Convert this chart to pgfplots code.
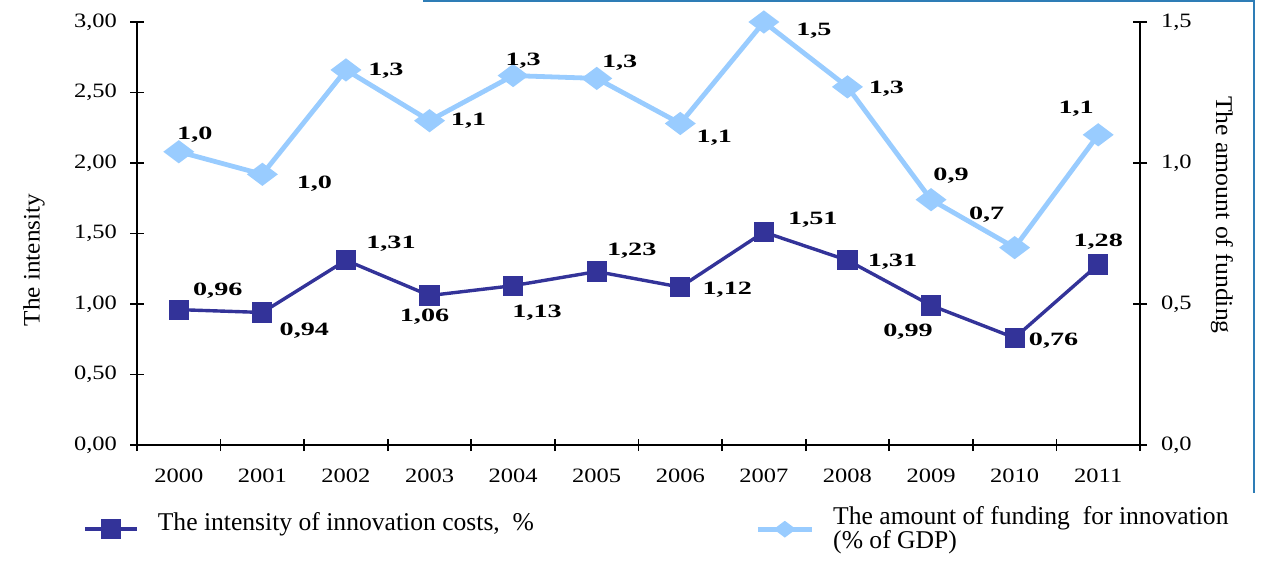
\documentclass[border=0pt]{standalone}
\usepackage{pgfplots}
\pgfplotsset{compat=1.18}
\usepackage{pgfplotstable}
\usepackage{fontspec}
\setmainfont{Liberation Serif}
\newfontfamily\tickfont[FakeStretch=1.2]{Liberation Serif}
\newfontfamily\lblfont[FakeStretch=1.5]{Liberation Serif}
\newfontfamily\titlefont[FakeStretch=1.07]{Liberation Serif}
\definecolor{darkser}{RGB}{51,51,153}
\definecolor{lightser}{RGB}{153,204,255}
\definecolor{framec}{RGB}{46,125,182}

% dx, dy: offset of the value label from its point, in pt
\pgfplotstableread{
x y lbl dx dy
0 0.96 0,96 19.5 9.5
1 0.94 0,94 21 -9
2 1.31 1,31 22.5 8.5
3 1.06 1,06 -2.5 -10.5
4 1.13 1,13 12 -13.5
5 1.23 1,23 17.5 10.5
6 1.12 1,12 23.5 -1.5
7 1.51 1,51 24.5 6
8 1.31 1,31 22.5 -0.5
9 0.99 0,99 -11.5 -13
10 0.76 0,76 19.5 -1.5
11 1.28 1,28 0 11.5
}\darkdata

\pgfplotstableread{
x y lbl dx dy
0 1.04 1,0 8 8.5
1 0.96 1,0 26 -4.5
2 1.33 1,3 20 -0.5
3 1.15 1,1 19.5 0
4 1.31 1,3 5 7.5
5 1.30 1,3 11.5 8
6 1.14 1,1 17 -7
7 1.50 1,5 25 -4.5
8 1.27 1,3 19.5 -1
9 0.87 0,9 10 12
10 0.70 0,7 -14 16.5
11 1.10 1,1 -11 13
}\lightdata

\pgfplotsset{
  common/.style={
    at={(68.5pt,62pt)}, anchor=south west,
    scale only axis, width=501.5pt, height=211.5pt,
    xmin=-0.5, xmax=11.5, clip=false,
    /pgf/number format/assume math mode=true,
    tick label style={font=\tickfont\fontsize{10.2}{12}\selectfont},
    tick align=center,
    every tick/.style={black, line width=0.9pt},
    axis line style={black, line width=0.9pt},
    major tick length=7pt, minor tick length=6pt,
    legend style={draw=none, fill=none, inner sep=0pt, cells={align=left},
      font=\fontsize{12.8}{12.3}\selectfont,
      /tikz/every odd column/.style={column sep=7.5pt}},
  },
  lbls/.style={
    draw=none, no marks, forget plot,
    nodes near coords, point meta=explicit symbolic,
    every node near coord/.append style={anchor=center,
      text=black, font=\lblfont\fontsize{9.4}{11}\selectfont\bfseries},
  },
  darkstyle/.style={color=darkser, line width=1.7pt, mark=square*, mark size=4.2pt, mark options={solid},
    legend image code/.code={\draw[mark repeat=2, mark phase=2, ##1] plot coordinates {(0pt,-3pt) (13pt,-3pt) (26pt,-3pt)};}},
  lightstyle/.style={color=lightser, line width=2.4pt, mark=diamond*, mark size=5.75pt, mark options={solid, rotate=90},
    legend image code/.code={\draw[mark repeat=2, mark phase=2, ##1, mark size=3.6pt] plot coordinates {(0pt,0pt) (13.5pt,0pt) (27pt,0pt)};}},
}

\begin{document}
\begin{tikzpicture}
\useasboundingbox (0,0) rectangle (634.5pt,284.5pt);
\draw[framec, line width=1pt] (211.5pt,284pt) -- (627pt,284pt) -- (627pt,38pt);

\begin{axis}[common,
  ymin=0, ymax=3,
  axis x line*=bottom, axis y line*=left,
  xtick={0,...,11},
  xticklabels={2000,2001,2002,2003,2004,2005,2006,2007,2008,2009,2010,2011},
  major x tick style={draw=none},
  minor xtick={-0.5,0.5,...,11.5},
  ytick={0,0.5,...,3},
  yticklabel style={/pgf/number format/.cd, fixed, fixed zerofill, precision=2, use comma, /tikz/.cd, xshift=-3pt},
  xticklabel style={yshift=-5pt},
  legend style={at={(axis description cs:-0.0538,-0.184)}, anchor=west},
]
\addplot[darkstyle] table[x=x, y=y] {\darkdata};
\addlegendentry{The intensity of innovation costs,\ \ \%}
\addplot[lbls] table[x expr={\thisrow{x}+\thisrow{dx}/41.79}, y expr={\thisrow{y}+\thisrow{dy}/70.5}, meta=lbl] {\darkdata};
\end{axis}

\begin{axis}[common,
  ymin=0, ymax=1.5,
  axis x line=none, axis y line*=right,
  ytick={0,0.5,1,1.5},
  yticklabel style={/pgf/number format/.cd, fixed, fixed zerofill, precision=1, use comma, /tikz/.cd, xshift=3.5pt},
  legend style={at={(axis description cs:0.6162,-0.199)}, anchor=west},
]
\addplot[lightstyle] table[x=x, y=y] {\lightdata};
\addlegendentry{The amount of funding\ \ for innovation\\(\% of GDP)}
\addplot[lbls] table[x expr={\thisrow{x}+\thisrow{dx}/41.79}, y expr={\thisrow{y}+\thisrow{dy}/141}, meta=lbl] {\lightdata};
\end{axis}

\node[rotate=90, font=\titlefont\fontsize{11.8}{13}\selectfont] at (17pt,154.5pt) {The intensity};
\node[rotate=-90, font=\titlefont\fontsize{12}{13}\selectfont] at (611pt,177pt) {The amount of funding};
\end{tikzpicture}
\end{document}
